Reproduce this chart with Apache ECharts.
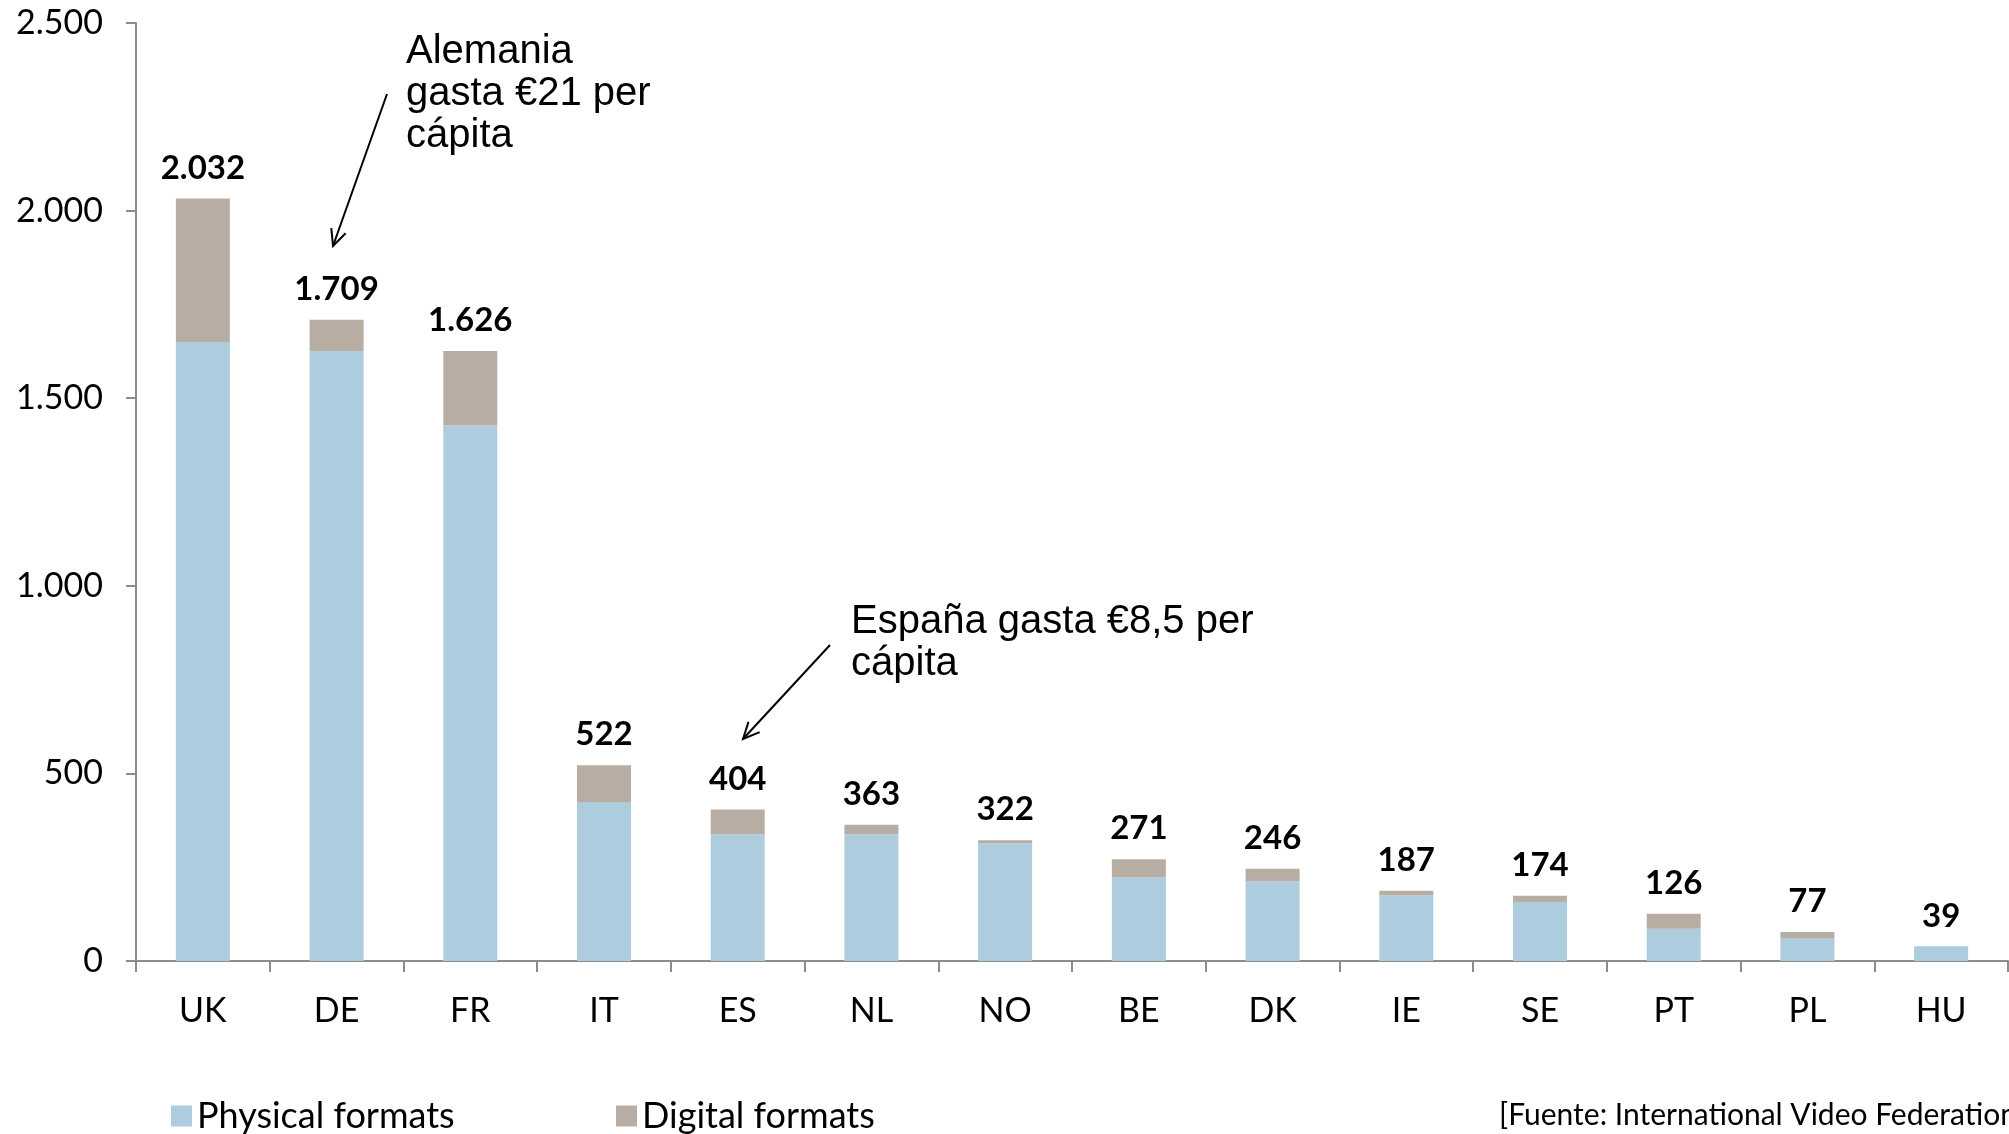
<!DOCTYPE html>
<html>
<head>
<meta charset="utf-8">
<script src="https://cdn.jsdelivr.net/npm/echarts@6/dist/echarts.min.js"></script>
<style>
html,body{margin:0;padding:0;background:#fff;}
#chart{width:2009px;height:1134px;}
</style>
</head>
<body>
<div id="chart"></div>
<script>
const categories = ['UK','DE','FR','IT','ES','NL','NO','BE','DK','IE','SE','PT','PL','HU'];
const physical = [1650, 1626, 1427, 424, 338, 338, 314, 223, 212, 175, 157, 86, 61, 39];
const digital  = [382, 83, 199, 98, 66, 25, 8, 48, 34, 12, 17, 40, 16, 0];
const totals   = [2032, 1709, 1626, 522, 404, 363, 322, 271, 246, 187, 174, 126, 77, 39];
const yTicks = { min: 0, max: 2500, interval: 500 };
const seriesNames = ['Physical formats', 'Digital formats'];
const annotations = [
  { text: 'Alemania\ngasta €21 per\ncápita', x: 406, y: 31 },
  { text: 'España gasta €8,5 per\ncápita', x: 851, y: 601 }
];
const sourceText = '[Fuente: International Video Federation]';

function fmt(v){ return String(v).replace(/\B(?=(\d{3})+(?!\d))/g, '.'); }

function arrow(x1,y1,x2,y2){
  const dx=x2-x1, dy=y2-y1, L=Math.hypot(dx,dy);
  const ux=-dx/L, uy=-dy/L, h=18, a=25*Math.PI/180;
  const c=Math.cos(a), s=Math.sin(a);
  const p1=[x2+h*(ux*c-uy*s), y2+h*(ux*s+uy*c)];
  const p2=[x2+h*(ux*c+uy*s), y2+h*(-ux*s+uy*c)];
  return [
    {type:'line', shape:{x1:x1,y1:y1,x2:x2,y2:y2}, style:{stroke:'#000',lineWidth:2}},
    {type:'polyline', shape:{points:[p1,[x2,y2],p2]}, style:{stroke:'#000',lineWidth:2,fill:null}}
  ];
}

const chart = echarts.init(document.getElementById('chart'));
const font = 'Lato, "Open Sans", sans-serif';
const axisColor = '#8c8c8c';

const graphics = [];
annotations.forEach(a => graphics.push({
  type:'text', left:a.x, top:a.y,
  style:{ text:a.text, font:'40px "Liberation Sans", Arial, sans-serif', fill:'#000', lineHeight:42 }
}));
graphics.push(...arrow(387,94,333,246));
graphics.push(...arrow(830,645,743,739));
graphics.push({ type:'text', left:1499, top:1100,
  style:{ text:sourceText, font:'30px ' + font, fill:'#000' } });

chart.setOption({
  animation:false,
  grid:{ left:136, right:1, top:23, bottom:173, containLabel:false },
  legend:[
    { data:[seriesNames[0]], left:166, top:1093, icon:'rect', itemWidth:21, itemHeight:21,
      textStyle:{ fontSize:36, fontFamily:font, color:'#000', lineHeight:36 } },
    { data:[seriesNames[1]], left:611, top:1093, icon:'rect', itemWidth:21, itemHeight:21,
      textStyle:{ fontSize:36, fontFamily:font, color:'#000', lineHeight:36 } }
  ],
  xAxis:{
    type:'category', data:categories,
    axisLine:{ lineStyle:{ color:axisColor, width:2 } },
    axisTick:{ show:true, length:11, lineStyle:{ color:axisColor, width:2 } },
    axisLabel:{ fontSize:34, fontFamily:font, color:'#000', margin:33 }
  },
  yAxis:{
    type:'value', min:yTicks.min, max:yTicks.max, interval:yTicks.interval,
    axisLine:{ show:true, lineStyle:{ color:axisColor, width:2 } },
    axisTick:{ show:true, length:10, lineStyle:{ color:axisColor, width:2 } },
    splitLine:{ show:false },
    axisLabel:{ fontSize:34, fontFamily:font, color:'#000', margin:33, formatter:v=>fmt(v) }
  },
  series:[
    { name:seriesNames[0], type:'bar', stack:'t', data:physical, barWidth:54,
      itemStyle:{ color:'#adcddf' } },
    { name:seriesNames[1], type:'bar', stack:'t', data:digital, barWidth:54,
      itemStyle:{ color:'#b8ada2' },
      label:{ show:true, position:'top', distance:14, fontSize:33, fontWeight:'bold',
        fontFamily:font, color:'#000', formatter:p=>fmt(totals[p.dataIndex]) } }
  ],
  graphic: graphics
});
</script>
</body>
</html>
